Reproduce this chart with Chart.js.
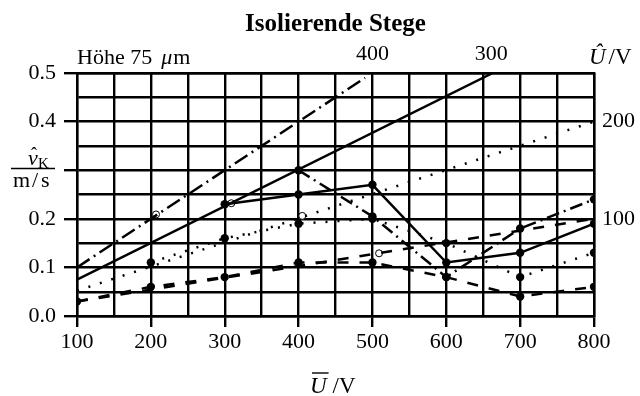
<!DOCTYPE html>
<html>
<head>
<meta charset="utf-8">
<script src="https://cdn.jsdelivr.net/npm/chart.js@4/dist/chart.umd.min.js"></script>
<style>
  html, body { margin: 0; padding: 0; background: #fff; }
  #c { display: block; }
</style>
</head>
<body>
<canvas id="c" width="640" height="396"></canvas>
<script>
// ---- data ----
// straight reference lines
const refDashDotX = [100, 490];
const refDashDotY = [0.10, 0.49];
const refSolidX = [100, 663];
const refSolidY = [0.075, 0.50];
const refDottedX = [100, 800];
const refDottedY = [0.052, 0.40];
const refDashedX = [100, 800];
const refDashedY = [0.03, 0.20];

// open circles on the reference lines
const openX = [207, 309, 405, 509];
const openY = [0.209, 0.232, 0.206, 0.129];

// measured series (filled markers)
const dashDotX = [400, 500, 600, 700, 800];
const dashDotY = [0.30, 0.205, 0.08, 0.18, 0.24];
const solidX = [300, 400, 500, 600, 700, 800];
const solidY = [0.23, 0.25, 0.27, 0.11, 0.13, 0.19];
const dottedX = [200, 300, 400, 500, 600, 700, 800];
const dottedY = [0.11, 0.16, 0.19, 0.20, 0.15, 0.08, 0.13];
const dashedX = [100, 200, 300, 400, 500, 600, 700, 800];
const dashedY = [0.03, 0.06, 0.08, 0.11, 0.11, 0.08, 0.04, 0.06];

// axis ticks
const leftLabels = [0.0, 0.1, 0.2, 0.4, 0.5];   // 0.3 is taken by the axis title
const rightTicks = [100, 200];
const topTicks = [500, 661];
const topLabels = ["400", "300"];

const FONT = "Liberation Serif";

function pts(xs, ys) {
    return xs.map((x, i) => ({ x: x, y: ys[i] }));
}

function lineSet(xs, ys, dash, marks) {
    return {
        data: pts(xs, ys),
        borderColor: "#000",
        backgroundColor: "#000",
        borderWidth: 2.5,
        borderDash: dash,
        pointRadius: marks ? 4.2 : 0,
        pointBorderWidth: 0,
        tension: 0,
        fill: false
    };
}

const isMajor = (v, step) => Math.abs(v / step - Math.round(v / step)) < 1e-6;

// ---- text drawn around the plot ----
const textPlugin = {
    id: "texts",
    afterDraw(chart) {
        const ctx = chart.ctx;
        const a = chart.chartArea;
        ctx.save();
        ctx.fillStyle = "#000";
        ctx.strokeStyle = "#000";
        ctx.textBaseline = "alphabetic";

        // title
        ctx.font = "bold 25px " + FONT;
        ctx.textAlign = "center";
        ctx.fillText("Isolierende Stege", (a.left + a.right) / 2, 31);

        // Höhe 75 µm
        ctx.textAlign = "left";
        let x = a.left;
        ctx.font = "22px " + FONT;
        ctx.fillText("Höhe 75", x, 64);
        x += ctx.measureText("Höhe 75").width + 9;
        ctx.font = "italic 22px " + FONT;
        ctx.fillText("μ", x, 64);
        x += ctx.measureText("μ").width + 1;
        ctx.font = "22px " + FONT;
        ctx.fillText("m", x, 64);

        // right axis title  Û/V
        ctx.font = "italic 23px " + FONT;
        ctx.fillText("Û", 589, 64);
        x = 589 + ctx.measureText("Û").width + 3;
        ctx.font = "23px " + FONT;
        ctx.fillText("/V", x, 64);

        // y axis title as fraction  v̂_K / m/s
        ctx.font = "italic 22px " + FONT;
        ctx.fillText("v", 28, 165);
        ctx.font = "18px " + FONT;
        ctx.fillText("ˆ", 31, 160);
        ctx.font = "15px " + FONT;
        ctx.fillText("K", 38, 168);
        ctx.beginPath();
        ctx.lineWidth = 1.6;
        ctx.moveTo(11, 168.5);
        ctx.lineTo(55, 168.5);
        ctx.stroke();
        ctx.font = "22px " + FONT;
        ctx.fillText("m", 13, 187);
        ctx.fillText("/", 32, 187);
        ctx.fillText("s", 41, 187);

        // x axis title  Ū/V
        ctx.font = "italic 23px " + FONT;
        const ux = 310;
        ctx.fillText("U", ux, 393);
        const uw = ctx.measureText("U").width;
        ctx.beginPath();
        ctx.lineWidth = 1.4;
        ctx.moveTo(ux + 2, 373);
        ctx.lineTo(ux + uw + 2, 373);
        ctx.stroke();
        ctx.font = "23px " + FONT;
        ctx.fillText("/V", ux + uw + 6, 393);

        ctx.restore();
    }
};

new Chart(document.getElementById("c"), {
    type: "line",
    data: {
        datasets: [
            lineSet(refDashDotX, refDashDotY, [15, 5, 2, 5], false),
            lineSet(refSolidX, refSolidY, [], false),
            lineSet(refDottedX, refDottedY, [2, 10], false),
            lineSet(refDashedX, refDashedY, [11, 11], false),
            lineSet(dashDotX, dashDotY, [13, 5, 2, 5], true),
            lineSet(solidX, solidY, [], true),
            lineSet(dottedX, dottedY, [2, 10], true),
            lineSet(dashedX, dashedY, [11, 11], true),
            {
                data: pts(openX, openY),
                showLine: false,
                pointRadius: 3.5,
                pointBorderWidth: 1,
                pointBorderColor: "#000",
                pointBackgroundColor: "#fff"
            }
        ]
    },
    options: {
        responsive: false,
        animation: false,
        devicePixelRatio: 1,
        layout: { padding: 0 },
        plugins: {
            legend: { display: false },
            tooltip: { enabled: false },
            title: { display: false }
        },
        scales: {
            x: {
                type: "linear",
                position: "bottom",
                min: 100,
                max: 800,
                ticks: {
                    stepSize: 50,
                    autoSkip: false,
                    maxRotation: 0,
                    padding: 2,
                    color: "#000",
                    font: { family: FONT, size: 22 },
                    callback: v => isMajor(v, 100) ? String(v) : ""
                },
                grid: {
                    color: "#000",
                    lineWidth: 2.4,
                    tickLength: 11,
                    tickColor: c => (c.tick && isMajor(c.tick.value, 100)) ? "#000" : "rgba(0,0,0,0)"
                },
                border: { display: true, color: "#000", width: 2.4 },
                afterFit: s => { s.height = 80; }
            },
            x2: {
                type: "linear",
                position: "top",
                min: 100,
                max: 800,
                afterBuildTicks: s => { s.ticks = topTicks.map(v => ({ value: v })); },
                ticks: {
                    autoSkip: false,
                    maxRotation: 0,
                    padding: 6,
                    color: "#000",
                    font: { family: FONT, size: 22 },
                    callback: (v, i) => topLabels[i]
                },
                grid: { display: false, drawTicks: false },
                border: { display: true, color: "#000", width: 2.4 },
                afterFit: s => { s.height = 73; }
            },
            y: {
                type: "linear",
                position: "left",
                min: 0,
                max: 0.5,
                ticks: {
                    stepSize: 0.05,
                    autoSkip: false,
                    padding: 8,
                    color: "#000",
                    font: { family: FONT, size: 22 },
                    callback: v => leftLabels.some(l => Math.abs(l - v) < 1e-6) ? v.toFixed(1) : ""
                },
                grid: {
                    color: "#000",
                    lineWidth: 2.4,
                    tickLength: 13,
                    tickColor: c => (c.tick && isMajor(c.tick.value, 0.1)) ? "#000" : "rgba(0,0,0,0)"
                },
                border: { display: true, color: "#000", width: 2.4 },
                afterFit: s => { s.width = 77; }
            },
            y2: {
                type: "linear",
                position: "right",
                min: 0,
                max: 250,
                afterBuildTicks: s => { s.ticks = rightTicks.map(v => ({ value: v })); },
                ticks: {
                    padding: 8,
                    color: "#000",
                    font: { family: FONT, size: 22 }
                },
                grid: { display: false, drawTicks: false },
                border: { display: true, color: "#000", width: 2.4 },
                afterFit: s => { s.width = 46; }
            }
        }
    },
    plugins: [textPlugin]
});
</script>
</body>
</html>
